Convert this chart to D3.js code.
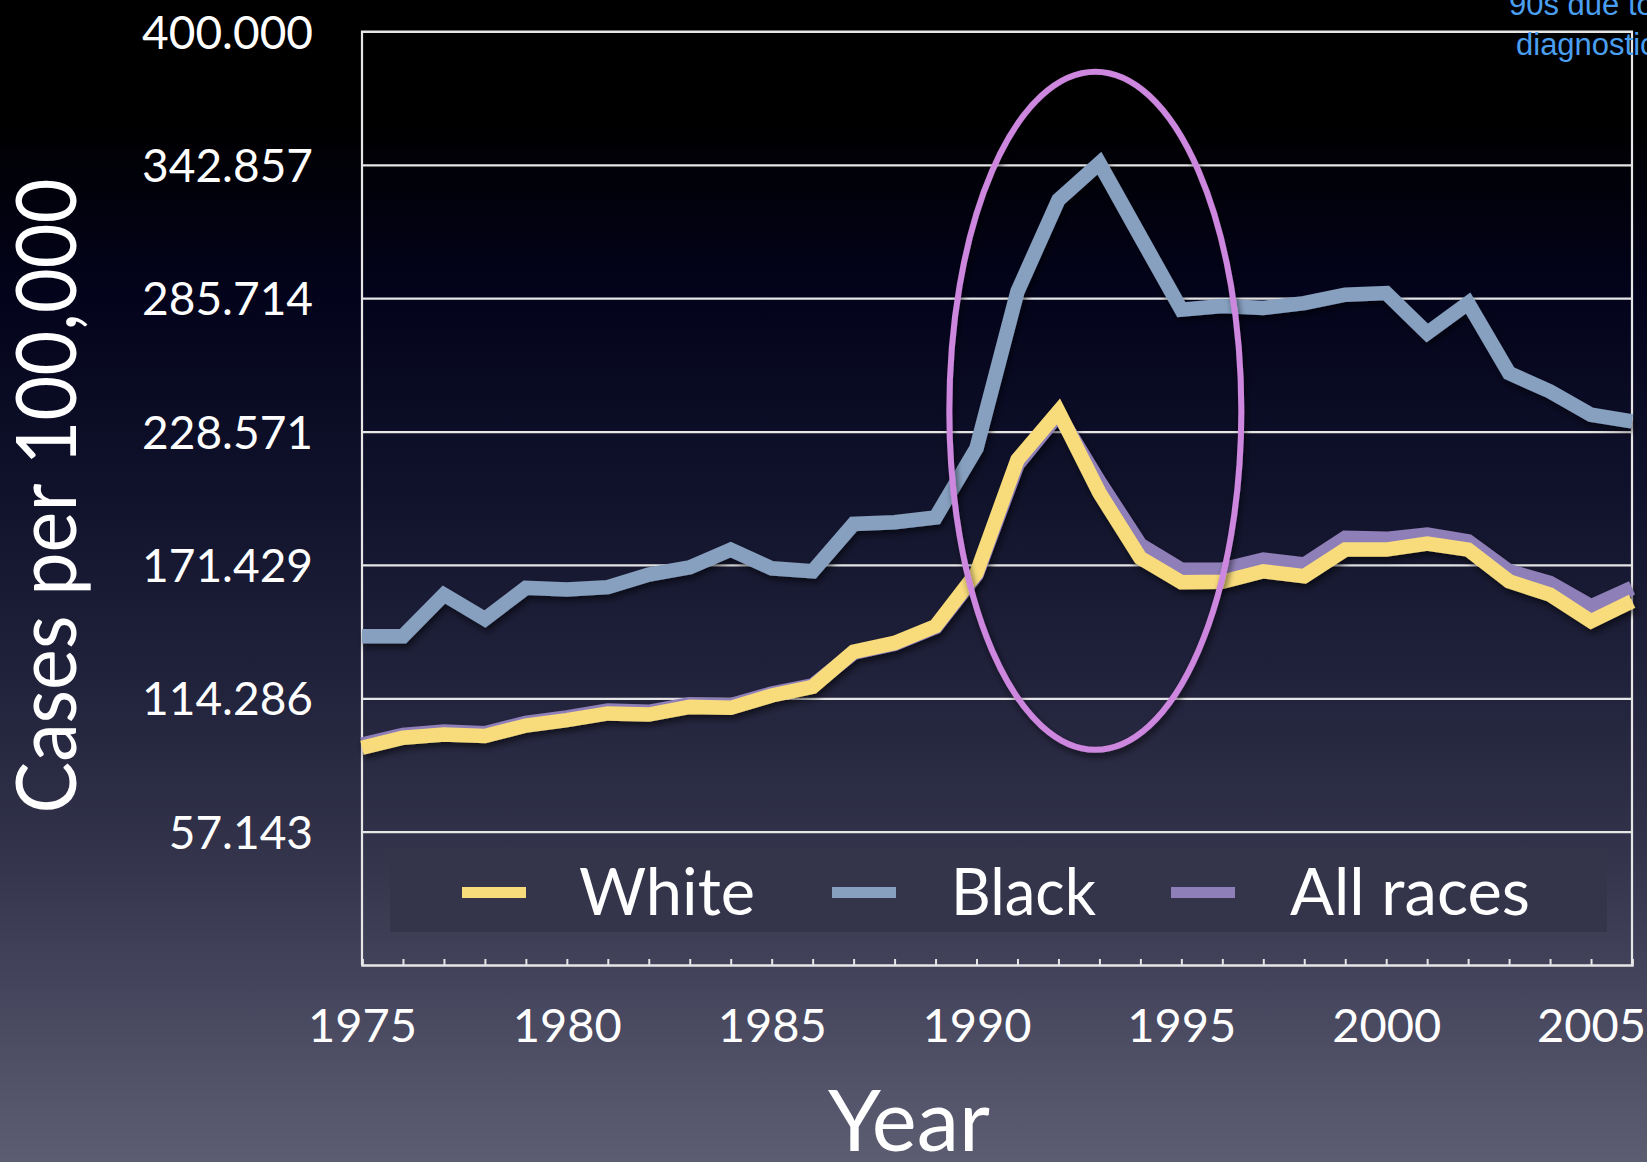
<!DOCTYPE html>
<html>
<head>
<meta charset="utf-8">
<script src="https://cdn.jsdelivr.net/npm/d3@7"></script>
<style>
  html, body { margin: 0; padding: 0; background: #000; overflow: hidden; }
  svg { display: block; }
</style>
</head>
<body>
<svg id="chart" width="1647" height="1162"></svg>
<script>
// Incidence rates, cases per 100,000, by year
const years = [1975, 1976, 1977, 1978, 1979, 1980, 1981, 1982, 1983, 1984, 1985,
               1986, 1987, 1988, 1989, 1990, 1991, 1992, 1993, 1994, 1995, 1996,
               1997, 1998, 1999, 2000, 2001, 2002, 2003, 2004, 2005, 2006];

const white = [93.1, 97.4, 98.8, 98.1, 102.6, 104.9, 107.8, 107.3, 110.6, 110.2, 115.5,
               119.2, 134.2, 138.0, 145.2, 168.0, 216.5, 237.2, 202.3, 174.4, 164.0, 164.2,
               168.7, 166.6, 178.0, 178.0, 180.6, 178.0, 164.4, 158.7, 147.3, 155.9];

const black = [140.9, 140.9, 158.7, 148.3, 161.6, 160.9, 161.9, 167.3, 170.4, 178.0, 170.0,
               168.7, 189.0, 189.7, 191.8, 221.5, 288.6, 327.9, 343.6, 312.1, 280.8, 282.4,
               281.5, 283.6, 287.2, 287.9, 270.8, 283.6, 253.6, 245.8, 235.8, 232.9];

const allRaces = [94.5, 98.6, 100.0, 99.3, 103.8, 106.1, 109.0, 108.5, 111.7, 111.3, 116.3,
                  119.8, 133.8, 137.6, 144.8, 167.3, 214.5, 236.0, 207.0, 180.0, 169.4, 169.4,
                  173.7, 171.6, 183.0, 182.6, 184.4, 181.5, 168.7, 163.7, 153.7, 161.6];

const seriesNames = ["White", "Black", "All races"];
const seriesColors = ["#f8dc7c", "#87a0c0", "#8f7fb8"];

const yTickValues = [57.143, 114.286, 171.429, 228.571, 285.714, 342.857, 400.000];
const xLabelYears = [1975, 1980, 1985, 1990, 1995, 2000, 2005];

const W = 1647, H = 1162;
const plotLeft = 362, plotRight = 1632, plotTop = 31.5, plotBottom = 965;
const FONT = "'Gill Sans', 'Gill Sans MT', Lato, 'Open Sans', sans-serif";

const svg = d3.select("#chart");
const defs = svg.append("defs");

// Slide background: black at the top fading to a slate purple-grey
const bg = defs.append("linearGradient")
  .attr("id", "bg").attr("x1", 0).attr("y1", 0).attr("x2", 0).attr("y2", 1);
[[0, "#000000"], [0.1, "#000000"], [0.25, "#03031b"], [0.42, "#10122b"],
 [0.58, "#20213a"], [0.72, "#31314a"], [0.86, "#46465e"], [1, "#5d5d72"]]
  .forEach(([o, c]) => bg.append("stop").attr("offset", o).attr("stop-color", c));

const shadow = defs.append("filter").attr("id", "shadow")
  .attr("x", "-5%").attr("y", "-5%").attr("width", "110%").attr("height", "115%");
shadow.append("feDropShadow").attr("dx", 2).attr("dy", 4)
  .attr("stdDeviation", 3).attr("flood-color", "#000").attr("flood-opacity", 0.55);

svg.append("rect").attr("width", W).attr("height", H).attr("fill", "url(#bg)");

const x = d3.scaleLinear().domain([1975, 2006]).range([plotLeft, plotRight]);
const y = d3.scaleLinear().domain([0, 400]).range([plotBottom, plotTop]);

// Horizontal gridlines with value labels
const yAxis = svg.append("g")
  .attr("transform", `translate(${plotLeft},0)`)
  .call(d3.axisLeft(y).tickValues(yTickValues)
        .tickSize(-(plotRight - plotLeft)).tickPadding(49)
        .tickFormat(d3.format(".3f")));
yAxis.select(".domain").remove();
yAxis.selectAll(".tick line").attr("stroke", "#e6e6e6").attr("stroke-width", 2.2);
yAxis.selectAll(".tick text")
  .attr("fill", "#fff").attr("font-family", FONT).attr("font-size", 46)
  .attr("dy", "0.36em");

// Frame: left, top, right edges
svg.append("path")
  .attr("d", `M${plotLeft},${plotBottom}V${plotTop}H${plotRight}V${plotBottom}`)
  .attr("fill", "none").attr("stroke", "#e6e6e6").attr("stroke-width", 2.2);

// Bottom axis with inward yearly ticks
const xAxis = svg.append("g")
  .attr("transform", `translate(0,${plotBottom})`)
  .call(d3.axisBottom(x).tickValues(years).tickSize(-6).tickFormat(""));
xAxis.select(".domain").attr("stroke", "#e6e6e6").attr("stroke-width", 2.6);
xAxis.selectAll(".tick line").attr("stroke", "#e6e6e6").attr("stroke-width", 2);

// Year labels
const xLabels = svg.append("g")
  .attr("transform", `translate(0,${plotBottom})`)
  .call(d3.axisBottom(x).tickValues(xLabelYears).tickSize(0).tickPadding(0)
        .tickFormat(d3.format("d")));
xLabels.select(".domain").remove();
xLabels.selectAll(".tick text")
  .attr("fill", "#fff").attr("font-family", FONT).attr("font-size", 47)
  .attr("y", 77).attr("dy", 0);

// Series lines: Black, All races, then White on top
const line = d3.line().x((d, i) => x(years[i])).y(d => y(d));
const drawOrder = [[black, 1], [allRaces, 2], [white, 0]];
const linesG = svg.append("g").attr("filter", "url(#shadow)");
drawOrder.forEach(([vals, k]) => {
  linesG.append("path")
    .datum(vals)
    .attr("d", line)
    .attr("fill", "none")
    .attr("stroke", seriesColors[k])
    .attr("stroke-width", 14.5)
    .attr("stroke-linejoin", "miter")
    .attr("stroke-miterlimit", 10);
});

// Highlight around the early-1990s peak
svg.append("ellipse")
  .attr("cx", x(1992.9)).attr("cy", y(237.5))
  .attr("rx", 146).attr("ry", 339)
  .attr("fill", "none").attr("stroke", "#cd87de").attr("stroke-width", 6)
  .attr("filter", "url(#shadow)");

// Legend
const legend = svg.append("g");
legend.append("rect")
  .attr("x", 390).attr("y", 849).attr("width", 1217).attr("height", 83)
  .attr("fill", "#34344b");
const legendItems = [
  { swatch: 462, text: 579, len: 176 },
  { swatch: 832, text: 951, len: 145 },
  { swatch: 1171, text: 1290, len: 240 }
];
legendItems.forEach((it, k) => {
  legend.append("rect")
    .attr("x", it.swatch).attr("y", 887).attr("width", 64).attr("height", 11)
    .attr("fill", seriesColors[k]);
  legend.append("text")
    .attr("x", it.text).attr("y", 915)
    .attr("fill", "#fff").attr("font-family", FONT).attr("font-size", 66)
    .attr("textLength", it.len).attr("lengthAdjust", "spacingAndGlyphs")
    .text(seriesNames[k]);
});

// Axis titles
svg.append("text")
  .attr("x", 909).attr("y", 1151)
  .attr("text-anchor", "middle")
  .attr("fill", "#fff").attr("font-family", FONT).attr("font-size", 85)
  .text("Year");

svg.append("text")
  .attr("transform", "translate(76,496) rotate(-90)")
  .attr("text-anchor", "middle")
  .attr("fill", "#fff").attr("font-family", FONT).attr("font-size", 84)
  .attr("textLength", 635).attr("lengthAdjust", "spacingAndGlyphs")
  .text("Cases per 100,000");

// Callout note at the top right
const note = svg.append("g")
  .attr("fill", "#4a9ff0").attr("font-family", "'Liberation Sans', Arial, sans-serif")
  .attr("font-size", 31);
note.append("text").attr("x", 1509).attr("y", 15).text("90s due to");
note.append("text").attr("x", 1516).attr("y", 55).text("diagnostic");
</script>
</body>
</html>
